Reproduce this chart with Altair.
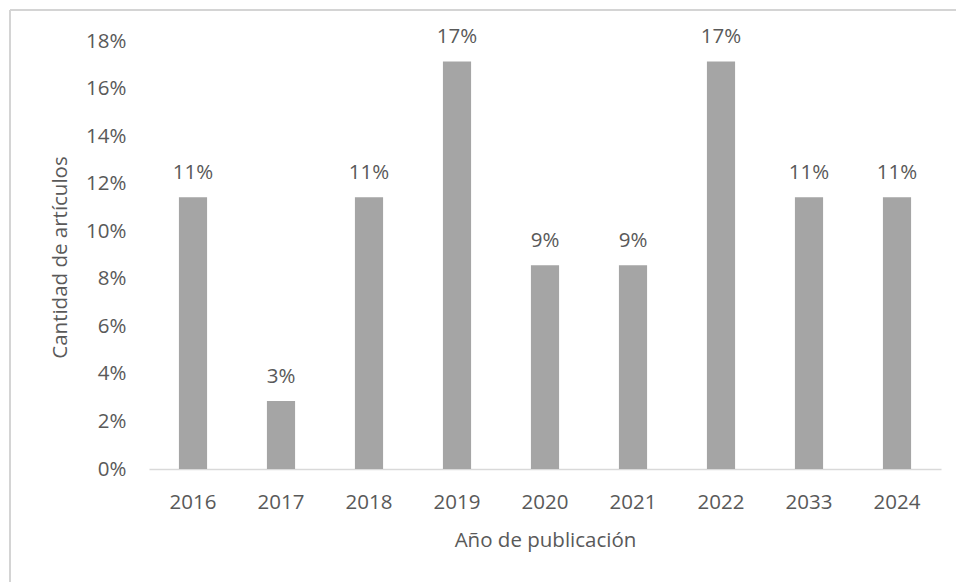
import altair as alt
import pandas as pd

years = ["2016", "2017", "2018", "2019", "2020", "2021", "2022", "2033", "2024"]
shares = [0.1143, 0.0286, 0.1143, 0.1714, 0.0857, 0.0857, 0.1714, 0.1143, 0.1143]
y_ticks = [0, 0.02, 0.04, 0.06, 0.08, 0.10, 0.12, 0.14, 0.16, 0.18]

df = pd.DataFrame({"year": years, "share": shares})

FONT = "Open Sans"
TXT = "#595959"
W, H = 792, 428
PL, PT = 149, 41
FS = 20.5

x_enc = alt.X(
    "year:N", sort=None,
    scale=alt.Scale(paddingInner=0.68, paddingOuter=0.34),
    axis=alt.Axis(
        title="Año de publicación", labelAngle=0, labelFont=FONT, labelFontSize=FS,
        labelColor=TXT, labelPadding=23, ticks=False, domainColor="#D9D9D9",
        domainWidth=1.5, titleFont=FONT, titleFontSize=FS, titleColor=TXT,
        titleFontWeight="normal", titleX=W / 2, titleY=71, titleBaseline="middle",
    ),
)
y_enc = alt.Y(
    "share:Q",
    scale=alt.Scale(domain=[0, 0.18], nice=False),
    axis=alt.Axis(
        title="Cantidad de artículos", values=y_ticks, format=".0%", grid=False,
        domain=False, ticks=False, labelFont=FONT, labelFontSize=FS, labelColor=TXT,
        labelPadding=23, titleFont=FONT, titleFontSize=FS, titleColor=TXT,
        titleFontWeight="normal", titleX=-89, titleY=H / 2 + 2, titleBaseline="middle",
        titleAngle=270,
    ),
)

bars = alt.Chart(df).mark_bar(color="#A5A5A5").encode(x=x_enc, y=y_enc)
labels = alt.Chart(df).mark_text(
    font=FONT, fontSize=FS, color=TXT, baseline="alphabetic", dy=-18
).encode(x=alt.X("year:N", sort=None), y="share:Q", text=alt.Text("share:Q", format=".0%"))

frame = alt.Chart(df.head(1))
top_edge = frame.mark_rule(color="#D4D4D4", strokeWidth=2).encode(
    x=alt.value(10 - PL), x2=alt.value(960 - PL), y=alt.value(10 - PT)
)
left_edge = frame.mark_rule(color="#D4D4D4", strokeWidth=2).encode(
    x=alt.value(10 - PL), y=alt.value(10 - PT), y2=alt.value(590 - PT)
)

chart = alt.layer(top_edge, left_edge, bars, labels).properties(
    width=W, height=H,
    padding={"left": PL, "top": PT, "right": 956 - PL - W, "bottom": 582 - PT - H},
    autosize=alt.AutoSizeParams(type="none"),
).configure(background="white").configure_view(strokeWidth=0, stroke="transparent")

chart.save("out.html", embed_options={"renderer": "svg", "actions": False})
